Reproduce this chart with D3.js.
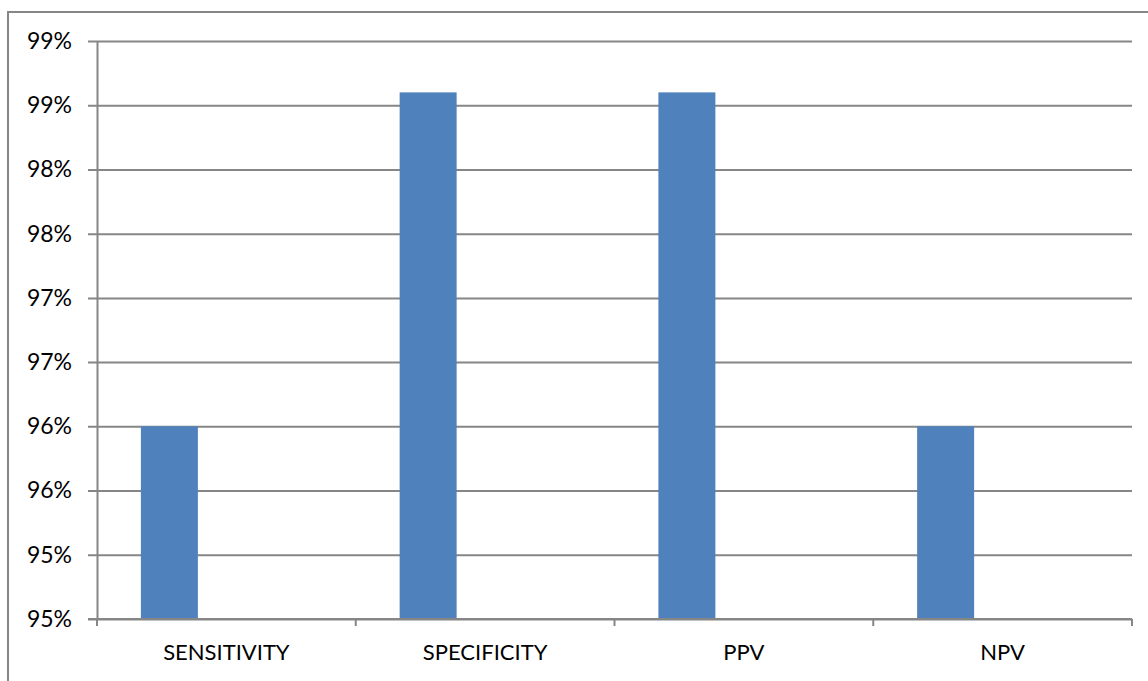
<!DOCTYPE html>
<html>
<head>
<meta charset="utf-8">
<script src="https://cdn.jsdelivr.net/npm/d3@7"></script>
<style>
  html, body { margin: 0; padding: 0; background: #fff; }
  svg { display: block; }
  text { font-family: Lato, "Open Sans", sans-serif; fill: #000; }
</style>
</head>
<body>
<svg id="chart" width="1148" height="681"></svg>
<script>
// Diagnostic accuracy measures
const categories = ["SENSITIVITY", "SPECIFICITY", "PPV", "NPV"];
const values = [0.96, 0.986, 0.986, 0.96];
// The clustered layout reserves slots for three series; only the first holds data
const seriesSlots = ["measure", "slot2", "slot3"];
const tickValues = [0.945, 0.95, 0.955, 0.96, 0.965, 0.97, 0.975, 0.98, 0.985, 0.99];
const tickLabels = ["95%", "95%", "96%", "96%", "97%", "97%", "98%", "98%", "99%", "99%"];

const W = 1148, H = 681;
const margin = { left: 97, right: 16, top: 41, bottom: 62 };
const gridColor = "#868686";
const barColor = "#4F81BD";

const svg = d3.select("#chart");

// outer chart frame (runs off the right and bottom edges)
svg.append("rect")
  .attr("x", 8).attr("y", 12)
  .attr("width", W + 20).attr("height", H + 20)
  .attr("fill", "none").attr("stroke", gridColor).attr("stroke-width", 2);

const x0 = d3.scaleBand()
  .domain(categories)
  .range([margin.left, W - margin.right])
  .padding(0);

const x1 = d3.scaleBand()
  .domain(seriesSlots)
  .range([0, x0.bandwidth()])
  .paddingInner(0)
  .paddingOuter(0.77);

const y = d3.scaleLinear()
  .domain([tickValues[0], tickValues[tickValues.length - 1]])
  .range([H - margin.bottom, margin.top]);

// horizontal gridlines with short outward ticks
const yAxis = d3.axisLeft(y)
  .tickValues(tickValues)
  .tickFormat((d, i) => tickLabels[i])
  .tickSize(-(W - margin.right - margin.left))
  .tickSizeOuter(0)
  .tickPadding(25);

const gy = svg.append("g")
  .attr("transform", `translate(${margin.left},0)`)
  .call(yAxis);
gy.select(".domain").attr("stroke", gridColor).attr("stroke-width", 2);
gy.selectAll(".tick line")
  .attr("x1", -9)
  .attr("stroke", gridColor).attr("stroke-width", 2);
gy.selectAll(".tick text")
  .attr("font-size", 23)
  .attr("font-family", "Lato, sans-serif")
  .attr("fill", "#000");

// bars
svg.append("g")
  .selectAll("rect")
  .data(categories.map((c, i) => ({ c, v: values[i] })))
  .join("rect")
  .attr("x", d => x0(d.c) + x1("measure"))
  .attr("width", x1.bandwidth())
  .attr("y", d => y(d.v))
  .attr("height", d => y(tickValues[0]) - y(d.v))
  .attr("fill", barColor);

// category axis
const xAxis = d3.axisBottom(x0)
  .tickSize(0)
  .tickPadding(25);
const gx = svg.append("g")
  .attr("transform", `translate(0,${H - margin.bottom})`)
  .call(xAxis);
gx.select(".domain").remove();
gx.selectAll(".tick text")
  .attr("font-size", 22)
  .attr("font-family", "Lato, sans-serif")
  .attr("fill", "#000");

// category separators below the baseline
const bounds = categories.map(c => x0(c)).concat([x0.range()[1]]);
gx.selectAll(".sep")
  .data(bounds)
  .join("line")
  .attr("class", "sep")
  .attr("x1", d => d).attr("x2", d => d)
  .attr("y1", 0).attr("y2", 7)
  .attr("stroke", gridColor).attr("stroke-width", 2);
gx.append("line")
  .attr("x1", margin.left - 9).attr("x2", x0.range()[1])
  .attr("y1", 0).attr("y2", 0)
  .attr("stroke", gridColor).attr("stroke-width", 2);
</script>
</body>
</html>
